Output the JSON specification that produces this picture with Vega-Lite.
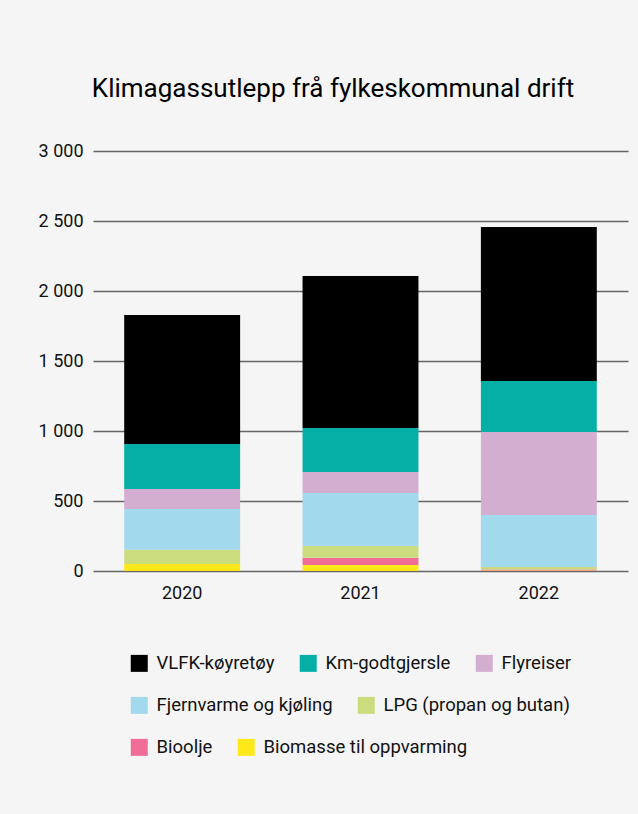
{
  "$schema": "https://vega.github.io/schema/vega-lite/v6.json",
  "width": 535,
  "height": 420,
  "autosize": {"type": "none"},
  "padding": {"left": 93, "top": 151, "right": 10, "bottom": 243},
  "background": "#f5f5f5",
  "title": {
    "text": "Klimagassutlepp frå fylkeskommunal drift",
    "frame": "bounds",
    "anchor": "middle",
    "font": "Roboto",
    "fontSize": 26,
    "fontWeight": "normal",
    "color": "#000000",
    "offset": 40
  },
  "data": {
    "values": [
      {"year": "2020", "cat": "Biomasse til oppvarming", "value": 50},
      {"year": "2020", "cat": "Bioolje", "value": 0},
      {"year": "2020", "cat": "LPG (propan og butan)", "value": 102},
      {"year": "2020", "cat": "Fjernvarme og kjøling", "value": 291},
      {"year": "2020", "cat": "Flyreiser", "value": 143},
      {"year": "2020", "cat": "Km-godtgjersle", "value": 321},
      {"year": "2020", "cat": "VLFK-køyretøy", "value": 922},
      {"year": "2021", "cat": "Biomasse til oppvarming", "value": 43},
      {"year": "2021", "cat": "Bioolje", "value": 52},
      {"year": "2021", "cat": "LPG (propan og butan)", "value": 84},
      {"year": "2021", "cat": "Fjernvarme og kjøling", "value": 378},
      {"year": "2021", "cat": "Flyreiser", "value": 150},
      {"year": "2021", "cat": "Km-godtgjersle", "value": 314},
      {"year": "2021", "cat": "VLFK-køyretøy", "value": 1086},
      {"year": "2022", "cat": "Biomasse til oppvarming", "value": 3},
      {"year": "2022", "cat": "Bioolje", "value": 7},
      {"year": "2022", "cat": "LPG (propan og butan)", "value": 19},
      {"year": "2022", "cat": "Fjernvarme og kjøling", "value": 371},
      {"year": "2022", "cat": "Flyreiser", "value": 593},
      {"year": "2022", "cat": "Km-godtgjersle", "value": 364},
      {"year": "2022", "cat": "VLFK-køyretøy", "value": 1100}
    ]
  },
  "encoding": {
    "x": {
      "field": "year",
      "type": "nominal",
      "scale": {"paddingInner": 0.35, "paddingOuter": 0.175},
      "axis": {
        "title": null,
        "domain": false,
        "ticks": false,
        "labelAngle": 0,
        "labelFont": "Roboto",
        "labelFontSize": 18,
        "labelColor": "#111111",
        "labelPadding": 13
      }
    }
  },
  "layer": [
    {
      "transform": [{"stack": "value", "groupby": ["year"], "as": ["v0", "v1"]}],
      "mark": {"type": "bar"},
      "encoding": {
        "y": {
          "field": "v0",
          "type": "quantitative",
          "scale": {"domain": [0, 3000]},
          "axis": {
            "title": null,
            "domain": false,
            "ticks": false,
            "grid": true,
            "gridColor": "#666666",
            "gridWidth": 1.3,
            "values": [0, 500, 1000, 1500, 2000, 2500, 3000],
            "labelExpr": "replace(format(datum.value, ','), ',', ' ')",
            "labelFont": "Roboto",
            "labelFontSize": 18,
            "labelColor": "#111111",
            "labelPadding": 10
          }
        },
        "y2": {"field": "v1"},
        "color": {
          "field": "cat",
          "type": "nominal",
          "scale": {
            "domain": ["Biomasse til oppvarming", "Bioolje", "LPG (propan og butan)", "Fjernvarme og kjøling", "Flyreiser", "Km-godtgjersle", "VLFK-køyretøy"],
            "range": ["#ffe81a", "#ef6d96", "#cbdc7e", "#a2d9ec", "#d3aed1", "#05afa6", "#000000"]
          },
          "legend": null
        }
      }
    },
    {
      "transform": [{"filter": {"field": "cat", "oneOf": ["VLFK-køyretøy", "Km-godtgjersle", "Flyreiser"]}}],
      "mark": {"type": "bar", "opacity": 0},
      "encoding": {
        "color": {
          "field": "cat",
          "type": "nominal",
          "scale": {"domain": ["VLFK-køyretøy", "Km-godtgjersle", "Flyreiser"], "range": ["#000000", "#05afa6", "#d3aed1"]},
          "legend": {"orient": "bottom", "direction": "horizontal", "title": " ", "titleOrient": "right", "titlePadding": 20, "symbolOpacity": 1}
        }
      }
    },
    {
      "transform": [{"filter": {"field": "cat", "oneOf": ["Fjernvarme og kjøling", "LPG (propan og butan)"]}}],
      "mark": {"type": "bar", "opacity": 0},
      "encoding": {
        "color": {
          "field": "cat",
          "type": "nominal",
          "scale": {"domain": ["Fjernvarme og kjøling", "LPG (propan og butan)"], "range": ["#a2d9ec", "#cbdc7e"]},
          "legend": {"orient": "bottom", "direction": "horizontal", "title": " ", "titleOrient": "right", "titlePadding": 20, "symbolOpacity": 1}
        }
      }
    },
    {
      "transform": [{"filter": {"field": "cat", "oneOf": ["Bioolje", "Biomasse til oppvarming"]}}],
      "mark": {"type": "bar", "opacity": 0},
      "encoding": {
        "color": {
          "field": "cat",
          "type": "nominal",
          "scale": {"domain": ["Bioolje", "Biomasse til oppvarming"], "range": ["#ef6d96", "#ffe81a"]},
          "legend": {"orient": "bottom", "direction": "horizontal", "title": " ", "titleOrient": "right", "titlePadding": 20, "symbolOpacity": 1}
        }
      }
    }
  ],
  "resolve": {"scale": {"color": "independent"}},
  "config": {
    "view": {"stroke": null},
    "legend": {
      "layout": {"bottom": {"anchor": "middle", "direction": "vertical", "center": false, "margin": 23, "offset": 52}},
      "labelFont": "Roboto",
      "labelFontSize": 18.5,
      "labelColor": "#111111",
      "labelLimit": 400,
      "titleFontSize": 18,
      "symbolType": "square",
      "symbolSize": 289,
      "symbolStrokeWidth": 0,
      "columnPadding": 24,
      "labelOffset": 8,
      "padding": 0
    }
  }
}
